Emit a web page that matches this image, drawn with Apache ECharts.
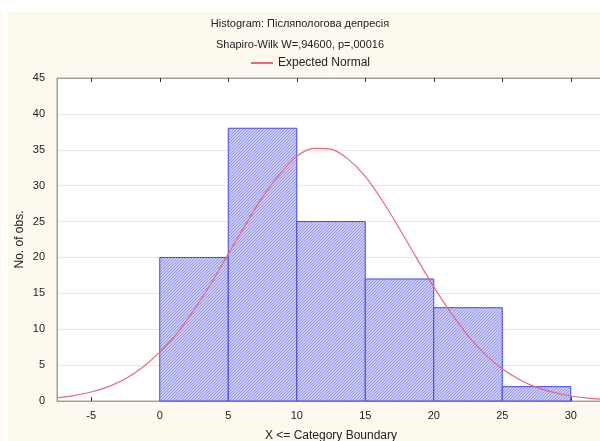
<!DOCTYPE html>
<html>
<head>
<meta charset="utf-8">
<script src="https://cdn.jsdelivr.net/npm/echarts@6/dist/echarts.min.js"></script>
<style>
html,body{margin:0;padding:0;background:#ffffff;}
#c{width:600px;height:441px;}
</style>
</head>
<body>
<div id="c"></div>
<script>
// Histogram bins and counts
var binStarts = [0, 5, 10, 15, 20, 25];
var binEnds = [5, 10, 15, 20, 25, 30];
var counts = [20, 38, 25, 17, 13, 2];
// Expected normal curve
var curveX = [-7.5, -6.25, -5, -3.75, -2.5, -1.25, 0, 1.25, 2.5, 3.75, 5, 6.25, 7.5, 8.75, 10, 11.25, 12.5, 13.75, 15, 16.25, 17.5, 18.75, 20, 21.25, 22.5, 23.75, 25, 26.25, 27.5, 28.75, 30, 31.25, 32.5];
var curveY = [0.43, 0.75, 1.25, 2.0, 3.1, 4.7, 6.8, 9.4, 12.7, 16.4, 20.5, 24.5, 28.4, 31.6, 34.1, 35.2, 35.1, 33.7, 31.3, 27.9, 24.0, 19.9, 15.9, 12.3, 9.1, 6.5, 4.5, 3.0, 1.9, 1.2, 0.7, 0.4, 0.22];
var xTicks = [-5, 0, 5, 10, 15, 20, 25, 30];

// hatch pattern for the bars
function makeHatch() {
  var c = document.createElement('canvas');
  c.width = 3; c.height = 3;
  var g = c.getContext('2d');
  g.fillStyle = '#cacbf7';
  g.fillRect(0, 0, 3, 3);
  g.fillStyle = '#9597e8';
  g.fillRect(2, 0, 1, 1);
  g.fillRect(1, 1, 1, 1);
  g.fillRect(0, 2, 1, 1);
  return c;
}
var hatch = makeHatch();

var chart = echarts.init(document.getElementById('c'));
var barData = binStarts.map(function (s, i) { return [s, binEnds[i], counts[i]]; });
var lineData = curveX.map(function (x, i) { return [x, curveY[i]]; });
var font = 'Liberation Sans, Arial, sans-serif';

chart.setOption({
  animation: false,
  backgroundColor: '#ffffff',
  graphic: [
    { type: 'rect', shape: { x: 8, y: 12, width: 600, height: 429 }, style: { fill: '#fdf9ee' }, z: -10 },
    { type: 'rect', shape: { x: 0, y: 12, width: 2, height: 429 }, style: { fill: '#fdf9ee' }, z: -10 }
  ],
  title: {
    text: 'Histogram: Післяпологова депресія\nShapiro-Wilk W=,94600, p=,00016',
    left: 'center',
    top: 8,
    textStyle: { fontFamily: font, fontSize: 11, fontWeight: 'normal', color: '#222', lineHeight: 21 }
  },
  legend: {
    top: 52,
    left: 246,
    itemWidth: 22,
    itemHeight: 2,
    itemGap: 6,
    icon: 'rect',
    textStyle: { fontFamily: font, fontSize: 12, color: '#222' },
    data: [{ name: 'Expected Normal', icon: 'rect' }]
  },
  grid: { left: 57, top: 78, right: -5, bottom: 40, outerBoundsMode: 'none', containLabel: false, show: true, backgroundColor: '#ffffff', borderColor: '#a0a0a0', borderWidth: 1 },
  xAxis: [{
    type: 'value', min: -7.5, max: 32.5,
    name: 'X <= Category Boundary', nameLocation: 'middle', nameGap: 29,
    nameTextStyle: { fontFamily: font, fontSize: 12, color: '#222' },
    axisLine: { show: true, onZero: false, lineStyle: { color: '#a0a0a0' } },
    axisTick: { show: true, inside: true, length: 4, customValues: xTicks, lineStyle: { color: '#333' } },
    axisLabel: { fontFamily: font, fontSize: 11, color: '#222', margin: 9, customValues: xTicks },
    splitLine: { show: false }
  }, {
    type: 'value', min: -7.5, max: 32.5, position: 'top',
    axisLine: { show: true, onZero: false, lineStyle: { color: '#a0a0a0' } },
    axisTick: { show: true, inside: true, length: 4, customValues: xTicks, lineStyle: { color: '#333' } },
    axisLabel: { show: false },
    splitLine: { show: false }
  }],
  yAxis: {
    type: 'value', min: 0, max: 45, interval: 5,
    name: 'No. of obs.', nameLocation: 'middle', nameGap: 31, nameMoveOverlap: false,
    nameTextStyle: { fontFamily: font, fontSize: 12, color: '#222' },
    axisLine: { show: true, onZero: false, lineStyle: { color: '#a0a0a0' } },
    axisTick: { show: false },
    axisLabel: { fontFamily: font, fontSize: 11, color: '#222', margin: 12 },
    splitLine: { show: true, lineStyle: { color: '#e8e8e8', width: 1 } }
  },
  series: [
    {
      type: 'custom',
      name: 'bins',
      data: barData,
      encode: { x: [0, 1], y: 2 },
      renderItem: function (params, api) {
        var p0 = api.coord([api.value(0), api.value(2)]);
        var p1 = api.coord([api.value(1), 0]);
        return {
          type: 'rect',
          shape: { x: p0[0], y: p0[1], width: p1[0] - p0[0], height: p1[1] - p0[1] },
          style: {
            fill: { image: hatch, repeat: 'repeat' },
            stroke: '#4646e8',
            lineWidth: 1
          }
        };
      },
      z: 2
    },
    {
      type: 'line',
      name: 'Expected Normal',
      data: lineData,
      smooth: 0.3,
      showSymbol: false,
      lineStyle: { color: '#e8687c', width: 1.2 },
      itemStyle: { color: '#e8687c' },
      z: 3
    }
  ]
});
</script>
</body>
</html>
